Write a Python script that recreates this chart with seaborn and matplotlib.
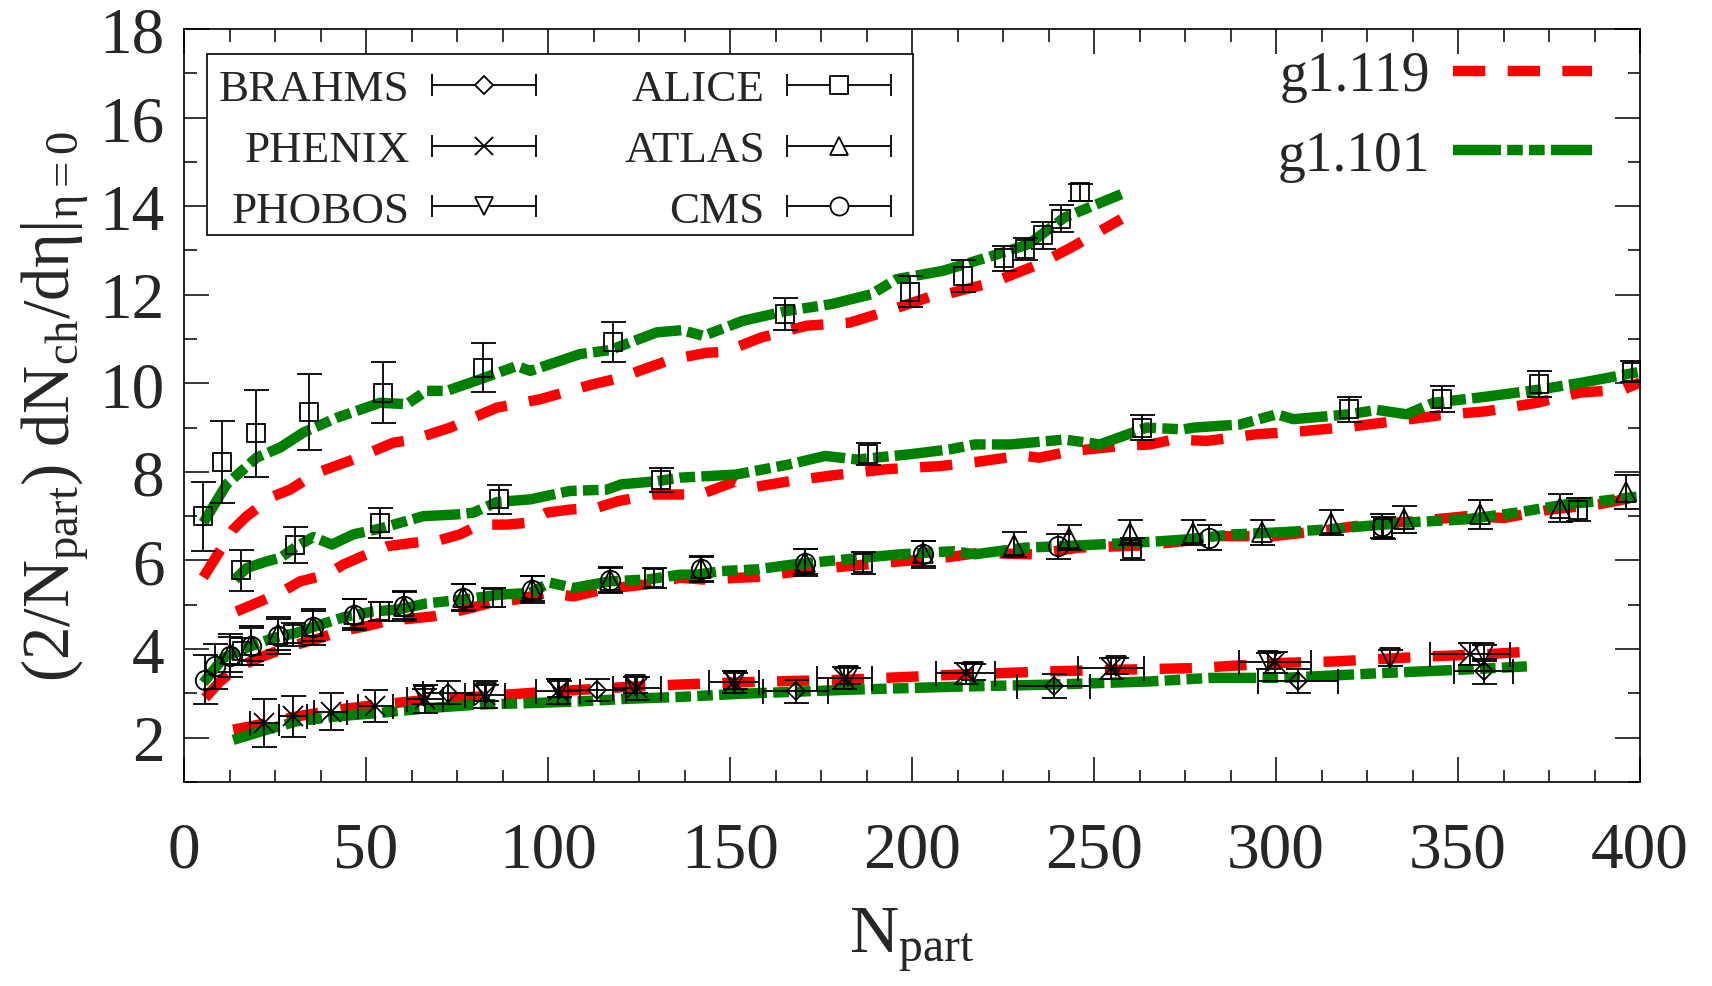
import numpy as np
import pandas as pd
import matplotlib
matplotlib.use("Agg")
import matplotlib.pyplot as plt
import seaborn as sns
from matplotlib.lines import Line2D
from matplotlib.patches import Rectangle
from matplotlib.container import ErrorbarContainer
from matplotlib.legend_handler import HandlerErrorbar
from matplotlib.ticker import MultipleLocator

# ---------------- data ----------------
# top ALICE series (squares)
alice_top_n = [5.1, 10.5, 19.8, 34.2, 54.6, 82.2, 117.9, 165.1, 199.3, 214.1, 225.2, 231.0, 236.1, 241.0, 246.2]
alice_top_y = [7.0, 8.22, 8.87, 9.35, 9.79, 10.35, 10.93, 11.56, 12.07, 12.43, 12.82, 13.03, 13.34, 13.72, 14.31]
alice_top_e = [0.78, 0.93, 0.98, 0.85, 0.69, 0.55, 0.45, 0.36, 0.35, 0.36, 0.28, 0.25, 0.3, 0.3, 0.2]

# second ALICE series (squares)
alice_mid_n = [15.7, 30.5, 53.7, 86.4, 131.0, 187.8, 263.2, 320.1, 345.7, 372.3, 397.9]
alice_mid_y = [5.78, 6.35, 6.85, 7.38, 7.81, 8.4, 9.0, 9.41, 9.64, 9.98, 10.26]
alice_mid_e = [0.46, 0.4, 0.34, 0.32, 0.27, 0.25, 0.28, 0.28, 0.29, 0.3, 0.24]

# third group: ALICE, ATLAS, CMS
alice_low_n = [15.8, 30.0, 53.7, 85.0, 129.0, 186.4, 260.5, 329.5, 383.0]
alice_low_y = [3.95, 4.33, 4.85, 5.16, 5.61, 5.95, 6.26, 6.74, 7.15]
alice_low_e = [0.3, 0.25, 0.22, 0.22, 0.22, 0.25, 0.25, 0.25, 0.25]

atlas_n = [12.6, 18.3, 25.9, 35.3, 46.7, 60.4, 76.7, 95.5, 117.0, 142.0, 170.7, 203.0, 228.1, 243.0,
           260.0, 277.2, 296.0, 315.0, 335.2, 356.0, 378.0, 396.2]
atlas_y = [3.88, 4.1, 4.33, 4.52, 4.8, 4.98, 5.18, 5.36, 5.57, 5.82, 5.97, 6.16, 6.36, 6.51,
           6.63, 6.63, 6.64, 6.85, 6.93, 7.04, 7.19, 7.54]
atlas_e = [0.4, 0.38, 0.36, 0.34, 0.32, 0.3, 0.3, 0.28, 0.28, 0.28, 0.28, 0.28, 0.28, 0.28,
           0.28, 0.28, 0.28, 0.28, 0.3, 0.32, 0.32, 0.38]

cms_n = [5.8, 8.5, 12.6, 18.3, 25.9, 35.3, 46.7, 60.4, 76.7, 95.5, 117.0, 142.0, 170.7, 203.0, 240.0, 281.6, 329.0]
cms_y = [3.31, 3.61, 3.85, 4.08, 4.3, 4.5, 4.78, 4.97, 5.16, 5.34, 5.55, 5.8, 5.95, 6.14, 6.32, 6.51, 6.78]
cms_e = [0.55, 0.5, 0.48, 0.45, 0.42, 0.4, 0.36, 0.34, 0.3, 0.3, 0.28, 0.28, 0.3, 0.3, 0.28, 0.28, 0.28]

# fourth group: BRAHMS, PHENIX, PHOBOS
brahms_n = [72.6, 113.4, 168.0, 238.9, 306.1, 357.0]
brahms_y = [3.02, 3.07, 3.05, 3.16, 3.27, 3.5]
brahms_ye = [0.25, 0.25, 0.26, 0.27, 0.27, 0.28]
brahms_xe = [7.0, 8.0, 8.9, 10.0, 11.0, 8.0]

phenix_n = [22.1, 30.0, 40.3, 52.5, 66.2, 82.7, 102.8, 124.4, 151.0, 181.4, 214.8, 254.6, 299.7, 353.3]
phenix_y = [2.33, 2.48, 2.59, 2.71, 2.87, 2.97, 3.05, 3.12, 3.25, 3.35, 3.45, 3.57, 3.7, 3.88]
phenix_ye = [0.55, 0.47, 0.41, 0.36, 0.32, 0.3, 0.28, 0.26, 0.25, 0.24, 0.24, 0.24, 0.24, 0.25]
phenix_xe = [4.1, 3.9, 4.6, 4.8, 5.0, 5.5, 6.0, 6.5, 6.9, 7.5, 8.1, 9.0, 10.0, 11.0]

phobos_n = [65.9, 83.0, 103.0, 124.0, 151.3, 182.4, 216.8, 256.0, 297.9, 331.2, 357.0]
phobos_y = [2.93, 3.0, 3.1, 3.18, 3.27, 3.4, 3.48, 3.61, 3.73, 3.8, 3.91]
phobos_ye = [0.18, 0.18, 0.18, 0.18, 0.18, 0.18, 0.18, 0.18, 0.18, 0.18, 0.18]

# model curves g1.119 (red) and g1.101 (green)
g119_top_n = [5.3, 13.5, 17.2, 24.5, 29.1, 36.5, 46.5, 57.5, 63.0, 73.1, 85.9, 97.8, 112.4, 120.2, 125.0,
              133.9, 143.7, 148.6, 158.4, 171.0, 182.9, 194.7, 205.5, 209.3, 222.2, 234.9, 243.8, 257.5]
g119_top_y = [5.62, 6.7, 7.0, 7.45, 7.6, 7.98, 8.28, 8.66, 8.73, 9.0, 9.45, 9.64, 9.98, 10.13, 10.28,
              10.54, 10.69, 10.71, 11.03, 11.3, 11.37, 11.67, 11.97, 12.01, 12.28, 12.69, 13.07, 13.71]
g101_top_n = [5.3, 11.7, 19.9, 26.4, 32.8, 41.9, 53.8, 61.2, 66.6, 72.2, 81.3, 91.4, 95.1, 108.8, 117.0,
              129.9, 136.8, 142.7, 153.5, 165.3, 178.0, 188.8, 195.7, 208.5, 222.2, 232.0, 241.8, 257.5]
g101_top_y = [6.85, 7.72, 8.32, 8.55, 8.89, 9.22, 9.56, 9.53, 9.83, 9.83, 10.09, 10.39, 10.28, 10.66, 10.75,
              11.15, 11.2, 11.07, 11.41, 11.63, 11.79, 12.01, 12.35, 12.54, 12.88, 13.14, 13.74, 14.27]

g119_mid_n = [14.4, 19.9, 26.4, 31.9, 39.2, 43.8, 50.2, 55.7, 63.0, 69.4, 75.8, 81.3, 88.7, 94.1, 99.6,
              106.0, 113.4, 119.2, 129.0, 141.8, 151.6, 155.5, 166.3, 178.0, 192.8, 207.5, 217.3, 230.0,
              234.9, 243.8, 256.6, 265.4, 271.8, 281.0, 294.7, 307.5, 320.3, 333.2, 345.1, 357.9, 371.6,
              383.5, 395.4, 400.0]
g119_mid_y = [4.85, 5.04, 5.27, 5.53, 5.68, 5.91, 6.14, 6.32, 6.4, 6.44, 6.59, 6.81, 6.81, 6.85, 7.08,
              7.15, 7.19, 7.34, 7.49, 7.49, 7.79, 7.64, 7.79, 7.92, 8.06, 8.13, 8.22, 8.37,
              8.32, 8.47, 8.58, 8.62, 8.73, 8.7, 8.85, 8.92, 9.02, 9.15, 9.28, 9.37, 9.56,
              9.79, 9.86, 10.02]
g101_mid_n = [14.0, 17.2, 22.7, 26.4, 31.0, 35.5, 40.6, 46.5, 53.8, 65.7, 74.9, 79.5, 85.9, 95.1, 106.0,
              116.1, 120.2, 129.9, 136.3, 151.6, 166.3, 176.1, 184.9, 199.6, 210.4, 217.3, 227.1, 241.8,
              251.6, 264.4, 274.5, 277.3, 290.1, 300.2, 304.8, 320.1, 327.7, 335.9, 343.2, 356.0, 372.5,
              384.4, 400.0]
g101_mid_y = [5.57, 5.83, 5.98, 6.06, 6.32, 6.53, 6.36, 6.59, 6.72, 7.0, 7.04, 7.08, 7.32, 7.38, 7.57,
              7.6, 7.72, 7.79, 7.87, 7.94, 8.17, 8.36, 8.28, 8.4, 8.51, 8.62, 8.62, 8.73,
              8.62, 9.0, 8.96, 9.0, 9.07, 9.3, 9.19, 9.3, 9.4, 9.3, 9.56, 9.68, 9.86,
              10.02, 10.26]

g119_low_n = [5.8, 9.9, 14.5, 21.8, 29.1, 37.4, 42.9, 50.2, 55.7, 68.5, 74.9, 84.1, 91.4, 99.6, 107.0,
              116.1, 127.1, 136.3, 142.7, 157.4, 169.2, 182.0, 196.7, 208.5, 218.3, 233.0, 245.8, 263.4,
              275.2, 283.0, 299.3, 311.2, 324.9, 338.6, 352.3, 362.6, 375.3, 388.9, 400.0]
g119_low_y = [2.9, 3.27, 3.58, 3.84, 4.06, 4.25, 4.4, 4.52, 4.63, 4.74, 4.85, 5.04, 5.12, 5.27, 5.19,
              5.36, 5.46, 5.61, 5.57, 5.63, 5.76, 5.87, 5.98, 6.06, 6.17, 6.14, 6.29, 6.34,
              6.44, 6.55, 6.55, 6.66, 6.81, 6.89, 7.0, 6.96, 7.15, 7.27, 7.45]
g101_low_n = [5.3, 10.8, 17.2, 24.5, 31.0, 37.4, 44.7, 52.0, 58.4, 66.6, 76.7, 86.8, 95.1, 100.5, 107.0,
              117.0, 127.1, 136.3, 140.8, 147.6, 157.4, 167.3, 181.0, 196.7, 211.4, 217.3, 231.0, 245.8,
              265.4, 274.5, 288.3, 302.0, 313.9, 324.9, 338.6, 352.3, 366.0, 379.8, 388.9, 400.0]
g101_low_y = [3.24, 3.8, 4.03, 4.25, 4.37, 4.55, 4.74, 4.85, 4.89, 5.03, 5.12, 5.23, 5.27, 5.5, 5.38,
              5.53, 5.57, 5.68, 5.68, 5.76, 5.8, 5.91, 6.02, 6.14, 6.21, 6.14, 6.29, 6.34,
              6.42, 6.47, 6.59, 6.64, 6.7, 6.78, 6.87, 6.93, 7.08, 7.27, 7.34, 7.45]

g119_rhic_n = [13.5, 22.7, 31.0, 41.9, 53.8, 67.6, 81.3, 95.1, 108.8, 122.5, 136.3, 152.5, 181.9, 211.4,
               238.9, 265.4, 277.2, 302.0, 315.8, 329.5, 343.2, 357.0, 370.7]
g119_rhic_y = [2.18, 2.33, 2.48, 2.63, 2.75, 2.86, 2.93, 3.01, 3.08, 3.15, 3.2, 3.25, 3.31, 3.42,
               3.5, 3.55, 3.57, 3.69, 3.72, 3.78, 3.84, 3.88, 3.95]
g101_rhic_n = [13.5, 22.7, 31.0, 41.9, 53.8, 67.6, 81.3, 95.1, 108.8, 122.5, 136.3, 152.5, 181.9, 211.4,
               238.9, 265.4, 281.9, 302.0, 329.5, 352.3, 368.9]
g101_rhic_y = [1.95, 2.18, 2.37, 2.48, 2.56, 2.67, 2.75, 2.78, 2.82, 2.88, 2.92, 2.99, 3.08, 3.15,
               3.2, 3.27, 3.35, 3.35, 3.46, 3.54, 3.61]

x_ticks = [0, 50, 100, 150, 200, 250, 300, 350, 400]
y_ticks = [2, 4, 6, 8, 10, 12, 14, 16, 18]

# ---------------- style ----------------
sns.set_theme(style="ticks")
plt.rcParams["font.family"] = ["Liberation Serif", "DejaVu Serif"]
plt.rcParams["mathtext.fontset"] = "custom"
plt.rcParams["mathtext.rm"] = "Liberation Serif"
plt.rcParams["mathtext.it"] = "Liberation Serif:italic"
plt.rcParams["mathtext.bf"] = "Liberation Serif:bold"

RED = "#ff0000"
GREEN = "#008000"
LW = 7.5
RED_LS = (0, (3.1, 2.15))
GREEN_LS = (0, (4.6, 0.6, 1.5, 0.6, 1.5, 0.6))

fig = plt.figure(figsize=(17.12, 9.87), dpi=100)
ax = fig.add_axes([0.1075, 0.2067, 0.8505, 0.763])

# model curves
curves = [
    (g119_top_n, g119_top_y, RED, RED_LS), (g101_top_n, g101_top_y, GREEN, GREEN_LS),
    (g119_mid_n, g119_mid_y, RED, RED_LS), (g101_mid_n, g101_mid_y, GREEN, GREEN_LS),
    (g119_low_n, g119_low_y, RED, RED_LS), (g101_low_n, g101_low_y, GREEN, GREEN_LS),
    (g119_rhic_n, g119_rhic_y, RED, RED_LS), (g101_rhic_n, g101_rhic_y, GREEN, GREEN_LS),
]
for xs, ys, c, ls in curves:
    df = pd.DataFrame({"N": xs, "y": ys})
    sns.lineplot(data=df, x="N", y="y", ax=ax, color=c, lw=LW, linestyle=ls,
                 estimator=None, sort=False, errorbar=None, legend=False,
                 dash_capstyle="butt", zorder=2)

EKW = dict(color="black", elinewidth=1.3, capthick=1.3, capsize=9, mec="black",
           mfc="none", mew=1.3, ls="none", zorder=4)

ax.errorbar(alice_top_n, alice_top_y, yerr=alice_top_e, fmt="s", ms=13, **EKW)
ax.errorbar(alice_mid_n, alice_mid_y, yerr=alice_mid_e, fmt="s", ms=13, **EKW)
ax.errorbar(alice_low_n, alice_low_y, yerr=alice_low_e, fmt="s", ms=13, **EKW)
ax.errorbar(atlas_n, atlas_y, yerr=atlas_e, fmt="^", ms=14, **EKW)
ax.errorbar(cms_n, cms_y, yerr=cms_e, fmt="o", ms=14, **EKW)
ax.errorbar(brahms_n, brahms_y, yerr=brahms_ye, xerr=brahms_xe, fmt="D", ms=9, **EKW)
ax.errorbar(phenix_n, phenix_y, yerr=phenix_ye, xerr=phenix_xe, fmt="x", ms=14, **EKW)
ax.errorbar(phobos_n, phobos_y, yerr=phobos_ye, fmt="v", ms=14, **EKW)

# axes
ax.set_xlim(0, 400)
ax.set_ylim(1, 18)
ax.set_xticks(x_ticks)
ax.set_yticks(y_ticks)
ax.xaxis.set_minor_locator(MultipleLocator(12.5))
ax.yaxis.set_minor_locator(MultipleLocator(1))
ax.tick_params(which="both", direction="in", top=True, right=True, color="black", width=1.1)
ax.tick_params(which="major", length=18, labelsize=47)
ax.tick_params(axis="x", which="major", pad=28)
ax.tick_params(axis="y", which="major", pad=14)
ax.tick_params(which="minor", length=9)
for s in ax.spines.values():
    s.set_linewidth(1.2)
    s.set_color("black")
    s.set_visible(True)

ax.set_xlabel(r"N$_\mathrm{part}$", fontsize=49, labelpad=18)
ax.set_ylabel(r"(2/N$_\mathrm{part}$) dN$_\mathrm{ch}$/dη|$_\mathrm{η=0}$", fontsize=48, labelpad=6)

# legend 1: experiments (frame drawn as a box in axes coordinates)
ax.add_patch(Rectangle((0.0158, 0.7264), 0.4849, 0.2404, transform=ax.transAxes,
                       facecolor="white", edgecolor="black", lw=1.2, zorder=4.5))
PKW = dict(color="black", elinewidth=1.3, capthick=1.3, capsize=8, mec="black",
           mfc="white", mew=1.3, ls="none")
proxies = []
for name, mk, ms in [("BRAHMS", "D", 9), ("PHENIX", "x", 13), ("PHOBOS", "v", 13),
                     ("ALICE", "s", 13), ("ATLAS", "^", 13), ("CMS", "o", 13)]:
    h = ax.errorbar([np.nan], [np.nan], xerr=[1.0], fmt=mk, ms=ms, label=name, **PKW)
    proxies.append(h)
leg1 = ax.legend(handles=proxies, labels=[p.get_label() for p in proxies], ncol=2,
                 loc="upper left", bbox_to_anchor=(0.016, 0.9626), borderaxespad=0,
                 fontsize=32.5, markerfirst=False, handlelength=2.3, handletextpad=0.5,
                 columnspacing=1.95, labelspacing=0.45, borderpad=0.26, frameon=False,
                 handler_map={ErrorbarContainer: HandlerErrorbar(xerr_size=1.15)})
leg1.set_zorder(6)
ax.add_artist(leg1)

# legend 2: models
m1 = Line2D([], [], color=RED, lw=LW, linestyle=RED_LS, dash_capstyle="butt")
m2 = Line2D([], [], color=GREEN, lw=LW, linestyle=GREEN_LS, dash_capstyle="butt")
leg2 = ax.legend(handles=[m1, m2], labels=["g1.119", "g1.101"], loc="upper right",
                 bbox_to_anchor=(0.967, 0.972), borderaxespad=0, borderpad=0,
                 fontsize=40, markerfirst=False, handlelength=2.5, handletextpad=0.42,
                 labelspacing=0.5, frameon=False)

fig.savefig("out.png", dpi=100)
